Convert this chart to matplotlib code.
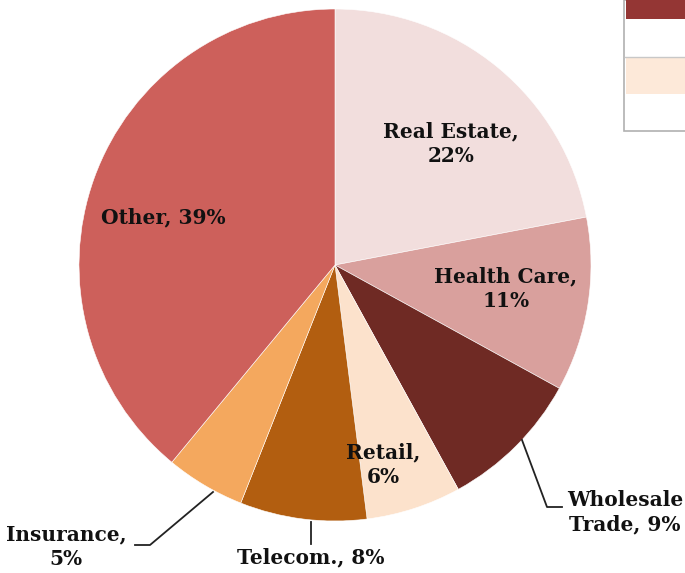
import matplotlib.pyplot as plt
from matplotlib.patches import Rectangle

labels = ['Real Estate,\n22%', 'Health Care,\n11%', 'Wholesale\nTrade, 9%', 'Retail,\n6%',
          'Telecom., 8%', 'Insurance,\n5%', 'Other, 39%']
shares = [22, 11, 9, 6, 8, 5, 39]
colors = ['#F2DEDD', '#D9A09D', '#6F2A24', '#FCE2CC', '#B25E10', '#F4A85E', '#CD605B']

W, H = 685, 573
fig = plt.figure(figsize=(W / 100, H / 100), dpi=100)
ax = fig.add_axes([0, 0, 1, 1])

cx, cy, r = 335, H - 265, 256
ax.pie(shares, colors=colors, startangle=90, counterclock=False,
       center=(cx, cy), radius=r, frame=True,
       wedgeprops=dict(edgecolor='white', linewidth=0.4))
ax.set_xlim(0, W)
ax.set_ylim(0, H)
ax.set_aspect('equal')
ax.axis('off')

font = dict(family='DejaVu Serif', fontweight='bold', fontsize=14.5, color='#111111',
            ha='center', va='center', linespacing=1.3)
# label positions in pixels (x, y from top)
pos = [(451, 144), (506, 289), (625, 512), (383, 465), (311, 557), (66, 547), (163, 217)]
for lab, (x, y) in zip(labels, pos):
    ax.text(x, H - y, lab, **font)

# leader lines
ax.plot([522, 547, 562], [H - 440, H - 507, H - 507], color='#222222', lw=1.3)
ax.plot([311, 311], [H - 522, H - 544], color='#222222', lw=1.3)
ax.plot([213, 150, 135], [H - 492, H - 545, H - 545], color='#222222', lw=1.3)

# cropped legend box at top right
ax.add_patch(Rectangle((624, H - 131), 70, 131, facecolor='white', edgecolor='#b0b0b0', lw=1.2))
ax.add_patch(Rectangle((626, H - 19), 60, 19, facecolor='#943634', edgecolor='none'))
ax.plot([625, 685], [H - 57, H - 57], color='#c8c8c8', lw=1)
ax.add_patch(Rectangle((626, H - 94), 60, 36, facecolor='#FDE9D9', edgecolor='none'))

fig.savefig('out.png', dpi=100)
